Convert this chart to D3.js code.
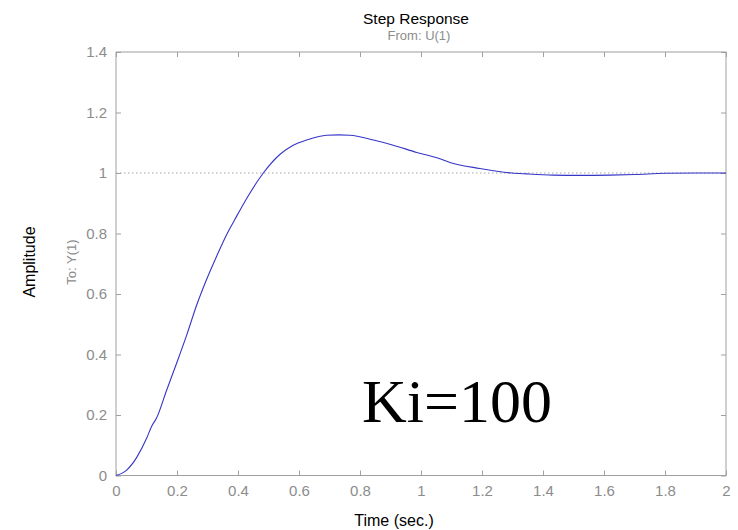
<!DOCTYPE html>
<html>
<head>
<meta charset="utf-8">
<script src="https://cdn.jsdelivr.net/npm/d3@7"></script>
<style>
  html, body { margin: 0; padding: 0; background: #fff; }
  svg { display: block; }
</style>
</head>
<body>
<svg id="chart" width="738" height="530"></svg>
<script>
// Step response samples: time (s) and amplitude
const timeValues = [0, 0.035, 0.068, 0.1, 0.117, 0.133, 0.166, 0.199, 0.232, 0.264, 0.297, 0.33, 0.363, 0.39,
  0.428, 0.483, 0.538, 0.581, 0.625, 0.69, 0.73, 0.767, 0.844, 0.909, 0.986, 1.057, 1.095, 1.193, 1.297,
  1.346, 1.433, 1.52, 1.62, 1.7, 1.8, 1.9, 2.0];
const amplitudeValues = [0, 0.018, 0.06, 0.122, 0.163, 0.19, 0.282, 0.372, 0.465, 0.562, 0.648, 0.725, 0.797, 0.847,
  0.915, 1.0, 1.062, 1.092, 1.109, 1.125, 1.126, 1.125, 1.109, 1.092, 1.068, 1.049, 1.035, 1.015, 1.0,
  0.997, 0.993, 0.992, 0.993, 0.995, 0.999, 1.0, 1.0];
const finalValue = 1;
const xTicks = [0, 0.2, 0.4, 0.6, 0.8, 1, 1.2, 1.4, 1.6, 1.8, 2];
const yTicks = [0, 0.2, 0.4, 0.6, 0.8, 1, 1.2, 1.4];

const svg = d3.select("#chart");
const plotLeft = 116, plotRight = 726, plotTop = 52, plotBottom = 475.5;
const axisColor = "#a0a0a0";
const labelColor = "#8c8c8c";
const font = "'Liberation Sans', Arial, sans-serif";

const x = d3.scaleLinear().domain([0, 2]).range([plotLeft, plotRight]);
const y = d3.scaleLinear().domain([0, 1.4]).range([plotBottom, plotTop]);

// Plot frame
svg.append("rect")
  .attr("x", plotLeft).attr("y", plotTop)
  .attr("width", plotRight - plotLeft).attr("height", plotBottom - plotTop)
  .attr("fill", "none").attr("stroke", axisColor).attr("stroke-width", 1);

// Inward ticks on all four sides
const tickLen = 5;
const styleAxis = g => {
  g.select(".domain").remove();
  g.selectAll(".tick line").attr("stroke", axisColor);
  g.selectAll(".tick text").attr("fill", labelColor)
    .style("font-family", font).style("font-size", "15px");
};
svg.append("g").attr("transform", `translate(0,${plotBottom})`)
  .call(d3.axisBottom(x).tickValues(xTicks).tickSize(-tickLen).tickPadding(10).tickFormat(d3.format("~g")))
  .call(styleAxis);
svg.append("g").attr("transform", `translate(0,${plotTop})`)
  .call(d3.axisTop(x).tickValues(xTicks).tickSize(-tickLen).tickFormat(""))
  .call(styleAxis);
svg.append("g").attr("transform", `translate(${plotLeft},0)`)
  .call(d3.axisLeft(y).tickValues(yTicks).tickSize(-tickLen).tickPadding(9).tickFormat(d3.format("~g")))
  .call(styleAxis);
svg.append("g").attr("transform", `translate(${plotRight},0)`)
  .call(d3.axisRight(y).tickValues(yTicks).tickSize(-tickLen).tickFormat(""))
  .call(styleAxis);

// Steady-state reference line
svg.append("line")
  .attr("x1", x(0)).attr("x2", x(2))
  .attr("y1", y(finalValue)).attr("y2", y(finalValue))
  .attr("stroke", "#a8a8a8").attr("stroke-width", 1)
  .attr("stroke-dasharray", "1.5,2.5");

// Response curve
const points = timeValues.map((t, i) => [t, amplitudeValues[i]]);
svg.append("path")
  .datum(points)
  .attr("fill", "none")
  .attr("stroke", "#3535c8")
  .attr("stroke-width", 1.1)
  .attr("d", d3.line().x(d => x(d[0])).y(d => y(d[1])).curve(d3.curveMonotoneX));

// Titles and labels
svg.append("text").attr("x", 416).attr("y", 24).attr("text-anchor", "middle")
  .style("font-family", font).style("font-size", "15.5px").attr("fill", "#000")
  .text("Step Response");
svg.append("text").attr("x", 419).attr("y", 40).attr("text-anchor", "middle")
  .style("font-family", font).style("font-size", "13px").attr("fill", labelColor)
  .text("From: U(1)");
svg.append("text").attr("transform", "translate(35,262) rotate(-90)").attr("text-anchor", "middle")
  .style("font-family", font).style("font-size", "16px").attr("fill", "#000")
  .text("Amplitude");
svg.append("text").attr("transform", "translate(76,262) rotate(-90)").attr("text-anchor", "middle")
  .style("font-family", font).style("font-size", "13px").attr("fill", labelColor)
  .text("To: Y(1)");
svg.append("text").attr("x", 394).attr("y", 526).attr("text-anchor", "middle")
  .style("font-family", font).style("font-size", "16px").attr("fill", "#000")
  .text("Time (sec.)");
svg.append("text").attr("x", 362).attr("y", 422)
  .style("font-family", "'Liberation Serif', 'Times New Roman', serif").style("font-size", "62px").attr("fill", "#000")
  .text("Ki=100");
</script>
</body>
</html>
